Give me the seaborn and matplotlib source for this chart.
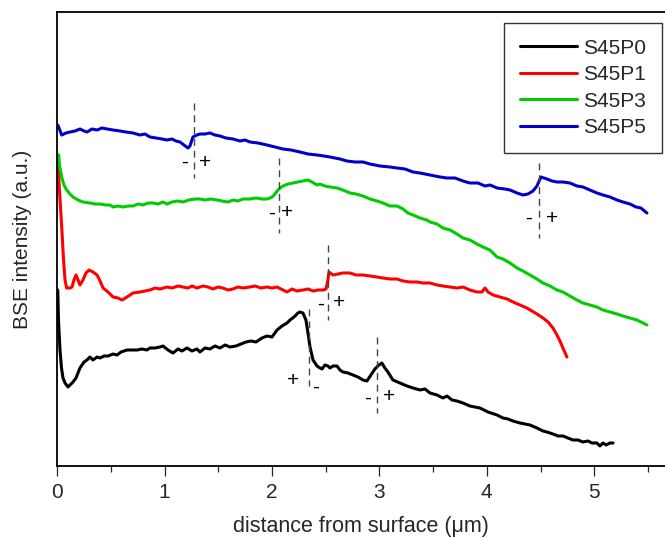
import matplotlib
matplotlib.use("Agg")
import matplotlib.pyplot as plt
from matplotlib.ticker import MultipleLocator
import pandas as pd
import seaborn as sns

# values (x in um, y = BSE intensity, arbitrary units)
p0_x = [0.005, 0.012, 0.026, 0.04, 0.054, 0.073, 0.101, 0.119, 0.147, 0.175, 0.212, 0.25, 0.277, 0.305,
        0.333, 0.371, 0.399, 0.436, 0.473, 0.52, 0.557, 0.594, 0.65, 0.696, 0.743, 0.789, 0.836, 0.864,
        0.911, 0.957, 0.985, 1.032, 1.078, 1.125, 1.162, 1.208, 1.255, 1.301, 1.329, 1.376, 1.422, 1.469,
        1.516, 1.562, 1.609, 1.665, 1.711, 1.758, 1.804, 1.851, 1.907, 1.953, 2.0, 2.047, 2.093, 2.14,
        2.168, 2.205, 2.242, 2.26, 2.288, 2.316, 2.335, 2.354, 2.382, 2.419, 2.447, 2.466, 2.493, 2.521,
        2.54, 2.568, 2.605, 2.633, 2.661, 2.707, 2.754, 2.8, 2.847, 2.884, 2.921, 2.958, 2.995, 3.023,
        3.051, 3.079, 3.126, 3.192, 3.257, 3.313, 3.378, 3.424, 3.471, 3.536, 3.592, 3.629, 3.676, 3.722,
        3.778, 3.843, 3.89, 3.936, 4.011, 4.095, 4.151, 4.197, 4.244, 4.309, 4.356, 4.402, 4.467, 4.523,
        4.56, 4.616, 4.663, 4.709, 4.756, 4.802, 4.849, 4.895, 4.942, 4.979, 5.025, 5.053, 5.082, 5.11,
        5.147, 5.175]
p0_y = [176, 146, 116, 98, 88, 83, 79, 81, 84, 88, 98, 104, 106, 109,
        106, 109, 108, 110, 110, 112, 111, 114, 116, 116, 116, 117, 116, 118,
        118, 119, 120, 116, 113, 117, 115, 118, 115, 117, 114, 118, 117, 120,
        118, 121, 119, 120, 122, 124, 125, 124, 128, 130, 129, 136, 140, 143,
        146, 149, 153, 154, 153, 146, 133, 119, 106, 100, 98, 97, 101, 100,
        98, 100, 100, 96, 94, 93, 91, 89, 86, 85, 91, 97, 101, 103,
        98, 94, 86, 83, 80, 78, 76, 77, 73, 71, 68, 70, 66, 65,
        63, 60, 59, 58, 54, 51, 48, 47, 45, 43, 42, 41, 38, 35,
        34, 32, 30, 30, 28, 26, 26, 24, 25, 23, 23, 20, 23, 21,
        23, 23]

p1_x = [0.007, 0.021, 0.042, 0.059, 0.073, 0.088, 0.119, 0.138, 0.156, 0.175, 0.194, 0.212, 0.24, 0.268,
        0.296, 0.333, 0.371, 0.399, 0.427, 0.473, 0.52, 0.566, 0.604, 0.65, 0.706, 0.771, 0.817, 0.864,
        0.911, 0.957, 1.022, 1.069, 1.125, 1.171, 1.218, 1.255, 1.301, 1.357, 1.404, 1.45, 1.497, 1.543,
        1.59, 1.637, 1.683, 1.73, 1.795, 1.842, 1.897, 1.953, 2.0, 2.047, 2.102, 2.14, 2.186, 2.233,
        2.288, 2.335, 2.382, 2.428, 2.475, 2.503, 2.521, 2.53, 2.568, 2.614, 2.661, 2.726, 2.782, 2.847,
        2.912, 2.977, 3.033, 3.098, 3.164, 3.22, 3.285, 3.35, 3.406, 3.471, 3.536, 3.592, 3.657, 3.722,
        3.778, 3.843, 3.908, 3.955, 3.983, 4.011, 4.058, 4.123, 4.188, 4.244, 4.309, 4.374, 4.42, 4.467,
        4.523, 4.57, 4.616, 4.653, 4.681, 4.709, 4.746]
p1_y = [306, 276, 239, 206, 186, 178, 178, 179, 186, 191, 186, 181, 186, 193,
        196, 194, 191, 185, 178, 174, 169, 168, 166, 169, 173, 174, 175, 176,
        178, 177, 179, 178, 180, 179, 178, 180, 178, 180, 179, 177, 179, 178,
        176, 177, 179, 178, 179, 180, 178, 179, 178, 179, 176, 174, 177, 175,
        176, 177, 175, 176, 176, 177, 186, 194, 191, 192, 193, 193, 191, 191,
        190, 189, 188, 187, 187, 185, 184, 184, 183, 183, 181, 180, 179, 178,
        179, 176, 174, 174, 178, 174, 171, 169, 167, 164, 161, 158, 155, 152,
        148, 144, 138, 131, 125, 118, 109]

p3_x = [0.014, 0.021, 0.042, 0.063, 0.088, 0.119, 0.147, 0.194, 0.24, 0.305, 0.352, 0.399, 0.454, 0.492,
        0.52, 0.566, 0.613, 0.659, 0.706, 0.752, 0.799, 0.845, 0.892, 0.939, 0.985, 1.022, 1.069, 1.125,
        1.171, 1.227, 1.283, 1.329, 1.376, 1.432, 1.49, 1.534, 1.59, 1.637, 1.683, 1.73, 1.795, 1.851,
        1.907, 1.953, 1.981, 2.0, 2.028, 2.047, 2.075, 2.102, 2.149, 2.196, 2.24, 2.288, 2.335, 2.372,
        2.419, 2.447, 2.493, 2.54, 2.605, 2.661, 2.726, 2.782, 2.847, 2.912, 2.977, 3.033, 3.098, 3.164,
        3.22, 3.266, 3.313, 3.378, 3.443, 3.471, 3.536, 3.592, 3.657, 3.722, 3.778, 3.843, 3.908, 3.964,
        4.029, 4.095, 4.151, 4.216, 4.281, 4.337, 4.402, 4.467, 4.523, 4.588, 4.653, 4.709, 4.774, 4.839,
        4.895, 4.96, 5.025, 5.082, 5.147, 5.212, 5.268, 5.333, 5.398, 5.454, 5.491]
p3_y = [311, 301, 289, 281, 276, 272, 269, 266, 264, 263, 262, 262, 261, 261,
        259, 260, 259, 260, 260, 262, 261, 263, 263, 262, 264, 262, 264, 265,
        264, 266, 267, 267, 266, 267, 266, 265, 264, 266, 265, 267, 267, 268,
        267, 267, 268, 269, 272, 275, 278, 280, 282, 283, 284, 285, 286, 284,
        281, 282, 280, 279, 278, 276, 273, 272, 270, 267, 265, 263, 260, 260,
        257, 253, 251, 248, 246, 244, 242, 238, 236, 232, 228, 226, 222, 219,
        216, 209, 207, 203, 198, 195, 191, 187, 183, 180, 176, 174, 170, 166,
        163, 161, 159, 156, 154, 152, 150, 148, 146, 143, 141]

p5_x = [0.005, 0.017, 0.042, 0.082, 0.119, 0.166, 0.212, 0.25, 0.277, 0.324, 0.371, 0.417, 0.464, 0.52,
        0.585, 0.64, 0.706, 0.771, 0.817, 0.864, 0.92, 0.976, 1.022, 1.069, 1.106, 1.143, 1.18, 1.218,
        1.236, 1.264, 1.301, 1.329, 1.376, 1.422, 1.469, 1.516, 1.571, 1.637, 1.702, 1.748, 1.795, 1.87,
        1.953, 2.028, 2.102, 2.177, 2.26, 2.335, 2.419, 2.484, 2.54, 2.633, 2.698, 2.773, 2.847, 2.912,
        3.005, 3.098, 3.164, 3.238, 3.313, 3.378, 3.471, 3.564, 3.629, 3.704, 3.778, 3.843, 3.918, 3.983,
        4.03, 4.095, 4.169, 4.216, 4.281, 4.337, 4.383, 4.43, 4.467, 4.504, 4.56, 4.607, 4.653, 4.709,
        4.774, 4.839, 4.895, 4.96, 5.025, 5.082, 5.147, 5.212, 5.268, 5.333, 5.389, 5.435, 5.491]
p5_y = [341, 338, 331, 333, 334, 335, 337, 335, 334, 337, 336, 338, 337, 336,
        335, 334, 333, 331, 332, 329, 328, 327, 326, 327, 325, 324, 321, 318,
        320, 329, 331, 332, 332, 333, 331, 330, 328, 327, 325, 326, 324, 323,
        321, 319, 317, 316, 314, 312, 311, 310, 309, 307, 305, 304, 304, 302,
        300, 299, 298, 297, 294, 293, 291, 289, 288, 288, 285, 283, 283, 280,
        281, 278, 277, 276, 273, 271, 272, 275, 280, 289, 287, 285, 284, 284,
        283, 280, 279, 276, 273, 271, 269, 266, 264, 262, 259, 258, 253]

names = ["S45P0", "S45P1", "S45P3", "S45P5"]
colors = ["#000000", "#ff0000", "#00cc00", "#0000cc"]

# interface markers: (x, y_top, y_bottom), and the -/+ labels (text, x, y)
marks = [(1.274, 363, 288), (2.065, 308, 233), (4.486, 303, 228),
         (2.521, 221, 146), (2.345, 157, 80), (2.978, 129, 53)]
signs = [("-", 1.19, 304), ("+", 1.376, 304), ("-", 2.0, 253), ("+", 2.14, 253),
         ("-", 4.393, 248), ("+", 4.607, 248), ("-", 2.456, 162), ("+", 2.624, 163),
         ("+", 2.196, 86), ("-", 2.403, 79), ("-", 2.893, 68), ("+", 3.09, 69)]

frames = []
for name, xs, ys in zip(names, [p0_x, p1_x, p3_x, p5_x], [p0_y, p1_y, p3_y, p5_y]):
    frames.append(pd.DataFrame({"x": xs, "y": ys, "sample": name}))
df = pd.concat(frames, ignore_index=True)

sns.set_style("ticks")
plt.rcParams["font.family"] = ["Liberation Sans", "DejaVu Sans"]

fig = plt.figure(figsize=(6.65, 5.38), dpi=100)
ax = fig.add_axes([57.2 / 665, 72 / 538, (665 - 57.2) / 665, 454 / 538])

sns.lineplot(data=df, x="x", y="y", hue="sample", palette=colors, estimator=None,
             sort=False, linewidth=2.2, ax=ax, legend=False)

for x, y0, y1 in marks:
    ax.plot([x, x], [y0, y1], color="#444444", lw=1.0, ls=(0, (5, 3.5)))
for s, x, y in signs:
    ax.text(x, y, s, ha="center", va="center", fontsize=15, color="black")

ax.set_xlim(0, (665 - 57.2) / 107.4)
ax.set_ylim(0, 454)
ax.set_yticks([])
ax.xaxis.set_major_locator(MultipleLocator(1))
ax.xaxis.set_minor_locator(MultipleLocator(0.5))
ax.tick_params(axis="x", which="major", length=7, width=0.9, labelsize=15, pad=5, direction="out")
ax.tick_params(axis="x", which="minor", length=4.3, width=0.9, direction="out")
ax.spines["right"].set_visible(False)
for s in ["left", "top", "bottom"]:
    ax.spines[s].set_linewidth(1.3)
    ax.spines[s].set_color("black")

ax.set_xlabel("distance from surface (\u03bcm)", fontsize=15.5, labelpad=10)
ax.set_ylabel("BSE intensity (a.u.)", fontsize=15, labelpad=18)

handles = [plt.Line2D([], [], color=c, lw=2.2) for c in colors]
leg = ax.legend(handles, names, loc="upper right", bbox_to_anchor=(662 / 665, 1 - 23 / 538),
                bbox_transform=fig.transFigure, fontsize=15, frameon=True, fancybox=False,
                borderaxespad=0, handlelength=2.75, handletextpad=0.3, labelspacing=0.36,
                borderpad=0.75)
leg.get_frame().set_edgecolor("black")
leg.get_frame().set_linewidth(1.0)

fig.savefig("out.png", dpi=100)
